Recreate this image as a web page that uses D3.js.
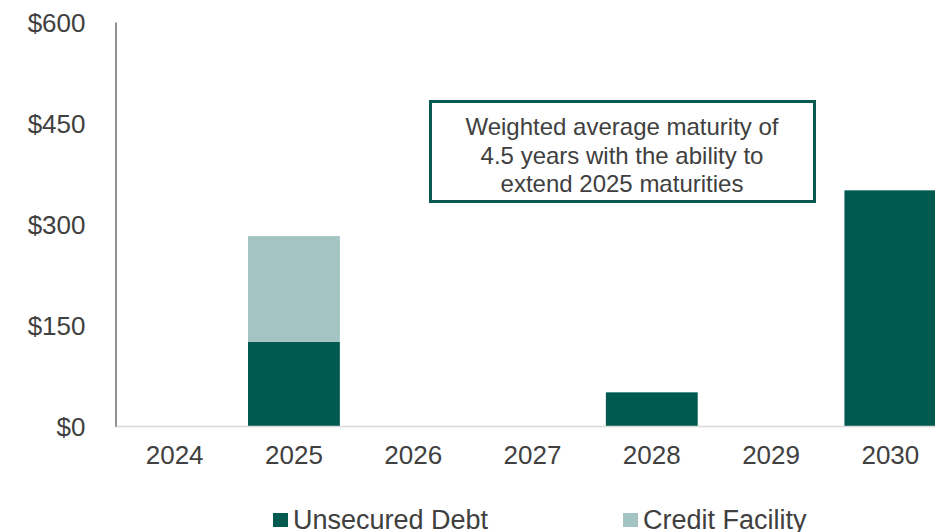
<!DOCTYPE html>
<html>
<head>
<meta charset="utf-8">
<script src="https://cdn.jsdelivr.net/npm/d3@7"></script>
<style>
  html, body { margin: 0; padding: 0; background: #fff; }
  svg { display: block; font-family: "Liberation Sans", Arial, sans-serif; }
</style>
</head>
<body>
<svg id="chart" width="935" height="532"></svg>
<script>
// data
var years = ["2024", "2025", "2026", "2027", "2028", "2029", "2030"];
var unsecured = [0, 125, 0, 0, 50, 0, 350];
var credit = [0, 157, 0, 0, 0, 0, 0];
var seriesNames = ["Unsecured Debt", "Credit Facility"];
var seriesColors = ["#005a4f", "#a3c4c2"];
var yTicks = [0, 150, 300, 450, 600];
var noteLines = ["Weighted average maturity of", "4.5 years with the ability to", "extend 2025 maturities"];

var textColor = "#404040";

var svg = d3.select("#chart");

var x = d3.scaleBand()
    .domain(years)
    .range([115, 950])
    .paddingInner(0.23)
    .paddingOuter(0.115);

var y = d3.scaleLinear()
    .domain([0, 600])
    .range([426, 22]);

var rows = years.map(function(yr, i) {
  return { year: yr, "Unsecured Debt": unsecured[i], "Credit Facility": credit[i] };
});
var stacked = d3.stack().keys(seriesNames)(rows);

// bars
svg.append("g").selectAll("g")
  .data(stacked)
  .join("g")
    .attr("fill", function(d, i) { return seriesColors[i]; })
  .selectAll("rect")
  .data(function(d) { return d.filter(function(p) { return p[1] - p[0] > 0; }); })
  .join("rect")
    .attr("x", function(d) { return x(d.data.year); })
    .attr("width", x.bandwidth())
    .attr("y", function(d) { return y(d[1]); })
    .attr("height", function(d) { return y(d[0]) - y(d[1]); });

// x axis baseline + labels
var xAxis = svg.append("g")
    .attr("transform", "translate(0," + y(0) + ")")
    .call(d3.axisBottom(x).tickSize(0).tickPadding(20));
xAxis.select(".domain").attr("stroke", "#d9d9d9").attr("stroke-width", 1.5)
    .attr("d", "M115,0.5H935");
xAxis.selectAll("text")
    .attr("fill", textColor)
    .style("font-size", "26px")
    .attr("dy", "0.71em");

// y axis
var yAxis = svg.append("g")
    .attr("transform", "translate(115.5,0)")
    .call(d3.axisLeft(y).tickValues(yTicks).tickSize(0).tickPadding(30)
      .tickFormat(function(d) { return "$" + d; }));
yAxis.select(".domain").attr("stroke", "#6e6e6e").attr("stroke-width", 1.5);
yAxis.selectAll("text")
    .attr("fill", textColor)
    .style("font-size", "26px")
    .attr("dy", "0.36em");

// annotation box
var note = svg.append("g");
note.append("rect")
    .attr("x", 430.5).attr("y", 101.5)
    .attr("width", 384).attr("height", 100)
    .attr("fill", "#fff")
    .attr("stroke", "#0b5a50")
    .attr("stroke-width", 3);
note.selectAll("text")
  .data(noteLines)
  .join("text")
    .attr("x", 622)
    .attr("y", function(d, i) { return 135 + i * 28.5; })
    .attr("text-anchor", "middle")
    .attr("fill", textColor)
    .style("font-size", "24px")
    .text(function(d) { return d; });

// legend
var legend = svg.append("g").selectAll("g")
  .data(seriesNames)
  .join("g")
    .attr("transform", function(d, i) { return "translate(" + (273 + i * 350) + ",0)"; });
legend.append("rect")
    .attr("x", 0).attr("y", 513)
    .attr("width", 15).attr("height", 14)
    .attr("fill", function(d, i) { return seriesColors[i]; });
legend.append("text")
    .attr("x", 20).attr("y", 529)
    .attr("fill", textColor)
    .style("font-size", "27px")
    .text(function(d) { return d; });
</script>
</body>
</html>
